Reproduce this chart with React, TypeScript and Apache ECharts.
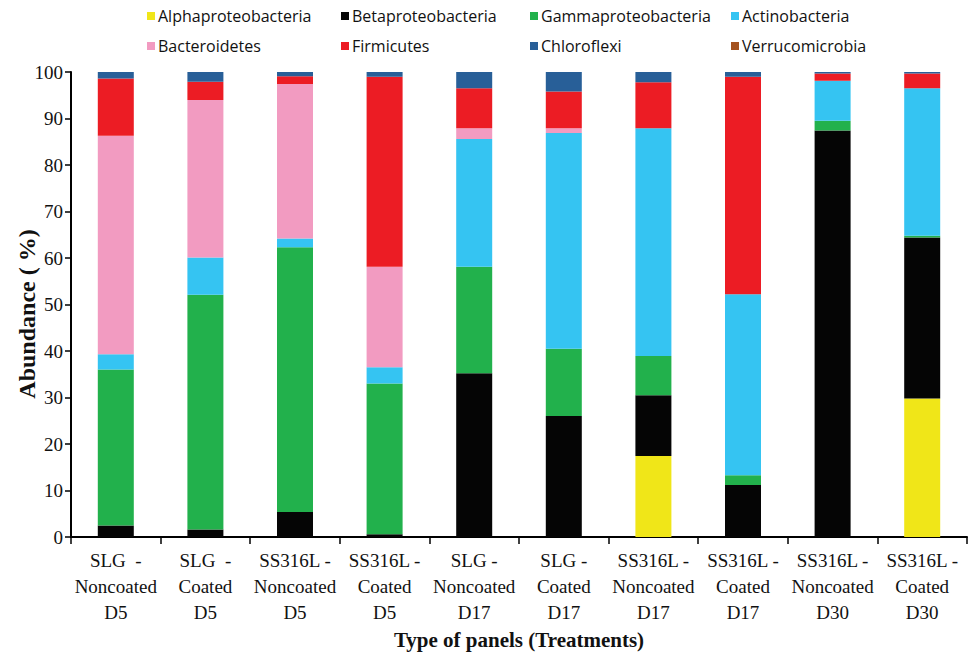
import React, { useEffect, useRef } from "react";
import * as echarts from "echarts";

// Treatments along the x axis
const categories = [
  "SLG  -\nNoncoated\nD5",
  "SLG  -\nCoated\nD5",
  "SS316L -\nNoncoated\nD5",
  "SS316L -\nCoated\nD5",
  "SLG -\nNoncoated\nD17",
  "SLG -\nCoated\nD17",
  "SS316L -\nNoncoated\nD17",
  "SS316L -\nCoated\nD17",
  "SS316L -\nNoncoated\nD30",
  "SS316L -\nCoated\nD30",
];

// Relative abundance (%) per class/phylum, stacked bottom to top
const alphaproteobacteria = [0, 0, 0, 0, 0, 0, 17.4, 0, 0, 29.8];
const betaproteobacteria = [2.5, 1.6, 5.4, 0.6, 35.2, 26.0, 13.1, 11.2, 87.4, 34.6];
const gammaproteobacteria = [33.5, 50.5, 56.9, 32.4, 22.9, 14.5, 8.4, 2.1, 2.1, 0.4];
const actinobacteria = [3.3, 8.0, 1.9, 3.5, 27.5, 46.4, 49.0, 38.9, 8.6, 31.7];
const bacteroidetes = [47.0, 33.9, 33.2, 21.6, 2.3, 1.0, 0, 0, 0, 0];
const firmicutes = [12.3, 3.9, 1.7, 40.9, 8.6, 7.9, 9.9, 46.8, 1.6, 3.2];
const chloroflexi = [1.4, 2.1, 0.9, 1.0, 3.5, 4.2, 2.2, 1.0, 0.3, 0.3];
const verrucomicrobia = [0, 0, 0, 0, 0, 0, 0, 0, 0, 0];

const yTicks = { min: 0, max: 100, interval: 10 };

const groups = [
  { name: "Alphaproteobacteria", values: alphaproteobacteria, color: "#F0E618" },
  { name: "Betaproteobacteria", values: betaproteobacteria, color: "#050505" },
  { name: "Gammaproteobacteria", values: gammaproteobacteria, color: "#22B14C" },
  { name: "Actinobacteria", values: actinobacteria, color: "#35C4F2" },
  { name: "Bacteroidetes", values: bacteroidetes, color: "#F29BC1" },
  { name: "Firmicutes", values: firmicutes, color: "#EC1C24" },
  { name: "Chloroflexi", values: chloroflexi, color: "#285F98" },
  { name: "Verrucomicrobia", values: verrucomicrobia, color: "#A4521F" },
];

// Legend grid: 4 columns x 2 rows
const legendCols = [147, 341, 530, 731];
const legendRows = [8, 38];

const serif = '"Liberation Serif", "Times New Roman", serif';
const sans = '"Open Sans", "Noto Sans", sans-serif';

export default function App() {
  const ref = useRef<HTMLDivElement>(null);

  useEffect(() => {
    if (!ref.current) return;
    const chart = echarts.init(ref.current, undefined, { renderer: "svg" });

    const legends = groups.map((g, i) => ({
      data: [g.name],
      left: legendCols[i % 4],
      top: legendRows[Math.floor(i / 4)],
      padding: 0,
      itemWidth: 8,
      itemHeight: 8,
      icon: "rect",
      selectedMode: false,
      textStyle: { fontFamily: sans, fontSize: 16, color: "#111", padding: [0, 0, 0, -2] },
    }));

    chart.setOption({
      animation: false,
      backgroundColor: "#ffffff",
      legend: legends,
      grid: { left: 71, right: 2, top: 72, bottom: 125, containLabel: false },
      xAxis: {
        type: "category",
        data: categories,
        axisLine: { lineStyle: { color: "#000", width: 2 } },
        axisTick: { show: true, length: 7, lineStyle: { color: "#000", width: 1.5 } },
        axisLabel: {
          interval: 0,
          margin: 10,
          fontFamily: serif,
          fontSize: 19,
          lineHeight: 26,
          color: "#111",
        },
        name: "Type of panels (Treatments)",
        nameLocation: "middle",
        nameGap: 77,
        nameTextStyle: { fontFamily: serif, fontSize: 21, fontWeight: "bold", color: "#111" },
      },
      yAxis: {
        type: "value",
        min: yTicks.min,
        max: yTicks.max,
        interval: yTicks.interval,
        splitLine: { show: false },
        axisLine: { show: true, lineStyle: { color: "#000", width: 2 } },
        axisTick: { show: true, length: 6, lineStyle: { color: "#000", width: 1.5 } },
        axisLabel: { fontFamily: serif, fontSize: 19, color: "#111", margin: 8 },
      },
      graphic: [
        {
          type: "text",
          x: 27,
          y: 314,
          rotation: Math.PI / 2,
          style: {
            text: "Abundance ( %)",
            fontFamily: serif,
            fontSize: 24,
            fontWeight: "bold",
            fill: "#111",
            align: "center",
            verticalAlign: "middle",
          },
        },
      ],
      series: groups.map((g) => ({
        name: g.name,
        type: "bar",
        stack: "total",
        data: g.values,
        barWidth: 36,
        itemStyle: { color: g.color },
      })),
    });

    return () => chart.dispose();
  }, []);

  return (
    <div
      ref={ref}
      style={{ position: "fixed", left: 0, top: 0, width: 969, height: 662 }}
    />
  );
}
